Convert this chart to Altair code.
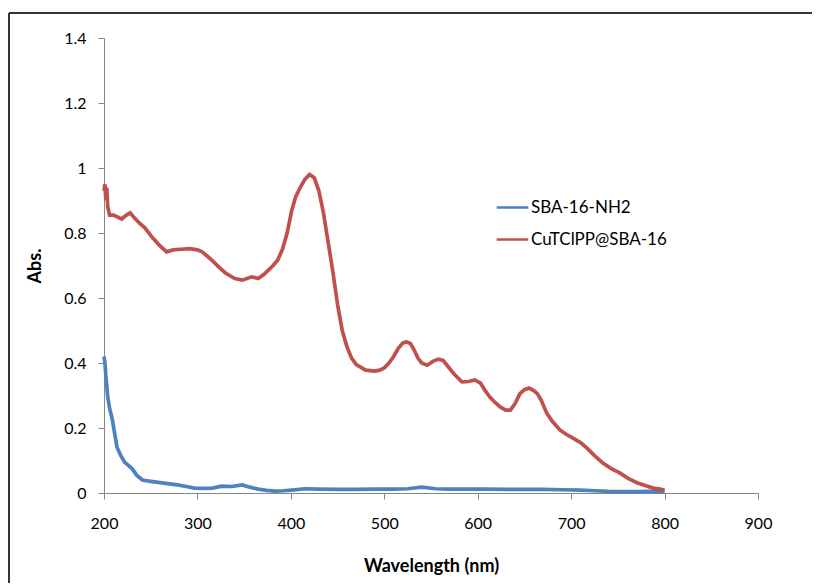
import altair as alt
import pandas as pd

series_names = ["SBA-16-NH2", "CuTClPP@SBA-16"]
series_colors = ["#4F81BD", "#C0504D"]

red_wl = [200, 201, 202, 203, 204, 206, 210, 214, 219, 224, 228, 233, 238, 244, 252, 260, 267, 274, 282,
          292, 300, 305, 310, 316, 323, 330, 340, 348, 358, 365, 371, 376, 381, 386, 391, 396, 401, 405,
          410, 415, 420, 425, 430, 435, 440, 445, 450, 455, 460, 465, 470, 480, 490, 495, 500, 505, 510,
          515, 520, 524, 528, 532, 536, 540, 546, 552, 558, 563, 568, 575, 583, 590, 597, 603, 608, 613,
          618, 624, 630, 635, 640, 645, 650, 655, 660, 664, 668, 674, 680, 688, 695, 702, 710, 717, 725,
          734, 743, 752, 761, 771, 780, 788, 795, 800]
red_abs = [0.93, 0.95, 0.90, 0.94, 0.88, 0.855, 0.855, 0.85, 0.843, 0.855, 0.862, 0.845, 0.83, 0.815, 0.785,
           0.76, 0.742, 0.748, 0.75, 0.752, 0.748, 0.742, 0.73, 0.715, 0.695, 0.677, 0.66, 0.655, 0.665, 0.66,
           0.672, 0.686, 0.70, 0.717, 0.75, 0.80, 0.87, 0.91, 0.94, 0.965, 0.98, 0.97, 0.93, 0.86, 0.77, 0.68,
           0.58, 0.50, 0.45, 0.415, 0.395, 0.378, 0.375, 0.378, 0.385, 0.40, 0.42, 0.445, 0.462, 0.465, 0.46,
           0.44, 0.415, 0.40, 0.393, 0.405, 0.412, 0.408, 0.39, 0.365, 0.342, 0.343, 0.348, 0.338, 0.315,
           0.295, 0.28, 0.265, 0.255, 0.255, 0.275, 0.305, 0.318, 0.323, 0.315, 0.305, 0.285, 0.245, 0.22,
           0.194, 0.18, 0.169, 0.155, 0.138, 0.115, 0.092, 0.075, 0.062, 0.045, 0.031, 0.022, 0.015, 0.012,
           0.009]

blue_wl = [200, 201, 202, 203, 204, 206, 209, 211, 214, 218, 222, 226, 230, 235, 241, 250, 262, 270, 279,
           288, 297, 305, 316, 326, 337, 348, 356, 365, 374, 383, 392, 401, 415, 430, 450, 470, 490, 510,
           525, 540, 555, 570, 590, 610, 630, 650, 670, 690, 710, 725, 740, 755, 770, 785, 800]
blue_abs = [0.42, 0.40, 0.36, 0.33, 0.295, 0.26, 0.225, 0.19, 0.14, 0.115, 0.095, 0.085, 0.075, 0.055, 0.04,
            0.036, 0.031, 0.028, 0.025, 0.02, 0.015, 0.014, 0.015, 0.021, 0.02, 0.025, 0.018, 0.012, 0.008,
            0.006, 0.007, 0.009, 0.013, 0.012, 0.011, 0.011, 0.012, 0.012, 0.013, 0.018, 0.013, 0.012, 0.012,
            0.012, 0.011, 0.011, 0.011, 0.010, 0.009, 0.007, 0.005, 0.004, 0.004, 0.005, 0.004]

x_ticks = [200, 300, 400, 500, 600, 700, 800, 900]
y_ticks = [0, 0.2, 0.4, 0.6, 0.8, 1, 1.2, 1.4]

df = pd.concat([
    pd.DataFrame({"wl": blue_wl, "abs": blue_abs, "series": series_names[0], "order": 0}),
    pd.DataFrame({"wl": red_wl, "abs": red_abs, "series": series_names[1], "order": 1}),
])

W, H = 654, 455
PAD_R = 54
FONT = "Lato"
GREY = "#868686"

one = pd.DataFrame({"a": [0]})
top_border = alt.Chart(one).mark_rule(stroke="#333333", strokeWidth=2).encode(
    x=alt.value(-95), x2=alt.value(W + PAD_R), y=alt.value(-25),
)
left_border = alt.Chart(one).mark_rule(stroke="#333333", strokeWidth=2).encode(
    x=alt.value(-95), y=alt.value(-25), y2=alt.value(H + 90),
)

lines = alt.Chart(df).mark_line(strokeWidth=3.7, interpolate="linear").encode(
    x=alt.X("wl:Q", scale=alt.Scale(domain=[200, 900], nice=False),
            axis=alt.Axis(values=x_ticks, title="Wavelength (nm)", titleY=73, titleBaseline="middle",
                          labelPadding=16, labelFlush=False, format="d")),
    y=alt.Y("abs:Q", scale=alt.Scale(domain=[0, 1.4], nice=False),
            axis=alt.Axis(values=y_ticks, title="Abs.", titleX=-69, titleBaseline="middle",
                          labelPadding=12, labelFlush=False, format="~g")),
    color=alt.Color("series:N", scale=alt.Scale(domain=series_names, range=series_colors),
                    legend=alt.Legend(title=None, orient="none", legendX=391, legendY=152,
                                      symbolType="stroke", symbolSize=1000, symbolStrokeWidth=2.5,
                                      labelFontSize=17, labelFont=FONT, labelOffset=1,
                                      rowPadding=6, padding=0, labelColor="#000000")),
    detail="series:N",
    order="order:Q",
)

chart = alt.layer(top_border, left_border, lines).properties(
    width=W, height=H,
    autosize=alt.AutoSizeParams(type="none"),
    padding={"left": 96, "top": 30, "right": PAD_R, "bottom": 90},
).configure_view(stroke=None).configure_axis(
    grid=False, domainColor=GREY, tickColor=GREY, tickSize=6, domainWidth=1, tickWidth=1,
    labelFont=FONT, labelFontSize=16, labelColor="#000000",
    titleFont=FONT, titleFontSize=18, titleFontWeight="bold", titleColor="#000000",
)

chart.save("out.html", embed_options={"renderer": "svg", "actions": False})
